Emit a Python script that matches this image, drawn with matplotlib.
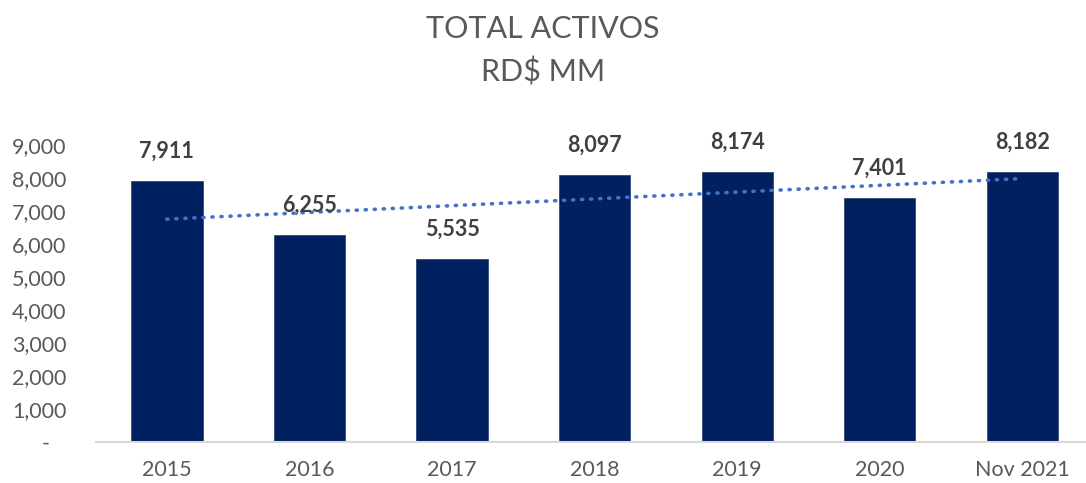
import matplotlib.pyplot as plt
import numpy as np

plt.rcParams['font.family'] = ['Lato', 'DejaVu Sans']

# Datos
categorias = ['2015', '2016', '2017', '2018', '2019', '2020', 'Nov 2021']
activos = [7911, 6255, 5535, 8097, 8174, 7401, 8182]
yticks = [0, 1000, 2000, 3000, 4000, 5000, 6000, 7000, 8000, 9000]
ytick_labels = ['-   ', '1,000', '2,000', '3,000', '4,000', '5,000', '6,000', '7,000', '8,000', '9,000']

fig = plt.figure(figsize=(10.86, 4.83), dpi=100)
ax = fig.add_axes([0.088, 0.085, 0.919, 0.615])

x = np.arange(len(categorias))
ax.bar(x, activos, width=0.5, color='#002060', edgecolor='#2F4A7A', linewidth=0.6, zorder=2)

# Linea de tendencia lineal (como en Excel)
m, b = np.polyfit(x, activos, 1)
ax.plot(x, m * x + b, color='#4472C4', lw=2.6, linestyle=(0, (0.3, 2.2)),
        dash_capstyle='round', zorder=3)

for xi, v in zip(x, activos):
    ax.annotate(f'{v:,}', (xi, v), xytext=(0, 14), textcoords='offset points',
                ha='center', va='bottom', fontsize=15.5, fontweight='bold',
                color='#404040', zorder=4)

ax.set_xlim(-0.5, len(categorias) - 0.5)
ax.set_ylim(0, 9000)
ax.set_xticks(x)
ax.set_xticklabels(categorias)
ax.set_yticks(yticks)
ax.set_yticklabels(ytick_labels)
ax.tick_params(axis='both', length=0, labelsize=15.5, colors='#595959')
ax.tick_params(axis='x', pad=13)
ax.tick_params(axis='y', pad=21)
for lbl in ax.get_yticklabels():
    lbl.set_horizontalalignment('right')

for s in ['top', 'right', 'left']:
    ax.spines[s].set_visible(False)
ax.spines['bottom'].set_color('#D9D9D9')
ax.spines['bottom'].set_linewidth(1.5)

fig.text(0.5, 0.94, 'TOTAL ACTIVOS', ha='center', va='center', fontsize=22, color='#595959')
fig.text(0.5, 0.85, 'RD$ MM', ha='center', va='center', fontsize=22, color='#595959')

fig.savefig('out.png', dpi=100)
